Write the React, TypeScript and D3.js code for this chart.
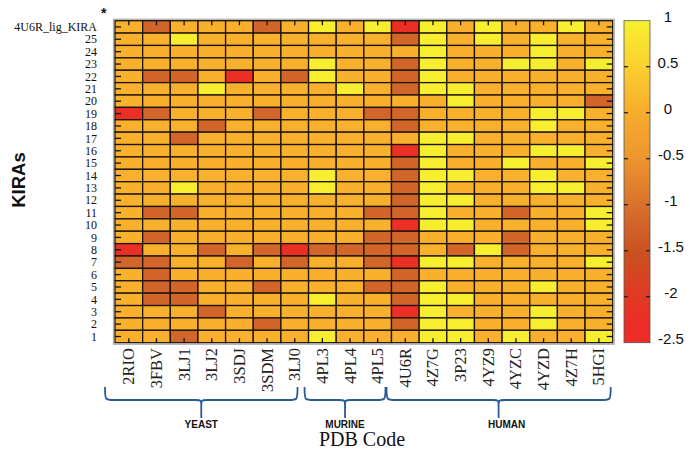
import React from "react";
import * as d3 from "d3";

// PDB structures (columns)
const pdbCodes = [
  "2RIO", "3FBV", "3LJ1", "3LJ2", "3SDJ", "3SDM", "3LJ0",
  "4PL3", "4PL4", "4PL5",
  "4U6R", "4Z7G", "3P23", "4YZ9", "4YZC", "4YZD", "4Z7H", "5HGI",
];

// KIRA ligands (rows, top to bottom)
const kiraLabels = [
  "4U6R_lig_KIRA", "25", "24", "23", "22", "21", "20", "19", "18", "17", "16", "15", "14",
  "13", "12", "11", "10", "9", "8", "7", "6", "5", "4", "3", "2", "1",
];

// docking score per row (same order as kiraLabels), one value per pdb code
const scores = [
  [0.1, -1.2, 0.1, 0.1, 0.1, -1.2, 0.1, 0.95, 0.1, 0.95, -2.2, 0.95, 0.1, 0.95, 0.1, 0.1, 0.95, 0.1],
  [0.1, 0.1, 0.95, 0.1, 0.1, 0.1, 0.1, 0.1, 0.1, 0.1, -1.2, 0.95, 0.1, 0.95, 0.1, 0.95, 0.1, 0.1],
  [0.1, 0.1, 0.1, 0.1, 0.1, 0.1, 0.1, 0.1, 0.1, 0.1, 0.1, 0.95, 0.1, 0.1, 0.1, 0.95, 0.1, 0.1],
  [0.1, 0.1, 0.1, 0.1, 0.1, 0.1, 0.1, 0.95, 0.1, 0.1, -1.2, 0.95, 0.1, 0.1, 0.95, 0.95, 0.1, 0.95],
  [0.1, -1.2, -1.2, 0.1, -2.2, 0.1, -1.2, 0.95, 0.1, 0.1, -1.2, 0.95, 0.1, 0.1, 0.1, 0.1, 0.1, 0.1],
  [0.1, 0.1, 0.1, 0.95, 0.1, 0.1, 0.1, 0.1, 0.95, 0.1, -1.2, 0.95, 0.95, 0.1, 0.1, 0.1, 0.1, 0.1],
  [0.1, 0.1, 0.1, 0.1, 0.1, 0.1, 0.1, 0.1, 0.1, 0.1, 0.1, 0.1, 0.95, 0.1, 0.1, 0.1, 0.1, -1.2],
  [-2.2, -1.2, 0.1, 0.1, 0.1, -1.2, 0.1, 0.1, 0.1, -1.2, -1.2, 0.1, 0.1, 0.1, 0.1, 0.95, 0.95, 0.1],
  [0.1, 0.1, 0.1, -1.2, 0.1, 0.1, 0.1, 0.1, 0.1, 0.1, -1.2, 0.1, 0.1, 0.1, 0.1, 0.95, 0.1, 0.1],
  [0.1, 0.1, -1.2, 0.1, 0.1, 0.1, 0.1, 0.1, 0.1, 0.1, 0.1, 0.95, 0.95, 0.1, 0.1, 0.1, 0.1, 0.1],
  [0.1, 0.1, 0.1, 0.1, 0.1, 0.1, 0.1, 0.1, 0.1, 0.1, -2.2, 0.95, 0.1, 0.1, 0.1, 0.95, 0.95, 0.1],
  [0.1, 0.1, 0.1, 0.1, 0.1, 0.1, 0.1, 0.1, 0.1, 0.1, -1.2, 0.95, 0.1, 0.1, 0.95, 0.1, 0.1, 0.95],
  [0.1, 0.1, 0.1, 0.1, 0.1, 0.1, 0.1, 0.95, 0.1, 0.1, -1.2, 0.95, 0.95, 0.1, 0.1, 0.95, 0.1, 0.1],
  [0.1, 0.1, 0.95, 0.1, 0.1, 0.1, 0.1, 0.95, 0.1, 0.1, -1.2, 0.95, 0.1, 0.1, 0.1, 0.95, 0.95, 0.1],
  [0.1, 0.1, 0.1, 0.1, 0.1, 0.1, 0.1, 0.1, 0.1, 0.1, -1.2, 0.95, 0.95, 0.1, 0.1, 0.1, 0.1, 0.1],
  [0.1, -1.2, -1.2, 0.1, 0.1, 0.1, 0.1, 0.1, 0.1, -1.2, -1.2, 0.95, 0.1, 0.1, -1.2, 0.1, 0.1, 0.95],
  [0.1, 0.1, 0.1, 0.1, 0.1, 0.1, 0.1, 0.1, 0.1, 0.1, -2.2, 0.95, 0.95, 0.1, 0.1, 0.1, 0.1, 0.95],
  [0.1, -1.2, 0.1, 0.1, 0.1, 0.1, 0.1, 0.1, 0.1, -1.2, -1.2, 0.1, 0.1, 0.1, -1.2, 0.1, 0.1, 0.1],
  [-2.2, 0.1, 0.1, -1.2, 0.1, -1.2, -2.2, -1.2, -1.2, -1.2, -1.2, 0.1, -1.2, 0.95, -1.2, 0.1, 0.1, 0.1],
  [-1.2, -1.2, 0.1, 0.1, -1.2, 0.1, -1.2, 0.1, 0.1, -1.2, -2.2, 0.95, 0.95, 0.1, 0.1, 0.1, 0.1, 0.95],
  [0.1, -1.2, 0.1, 0.1, 0.1, 0.1, 0.1, 0.1, 0.1, 0.1, -1.2, 0.1, 0.1, 0.1, 0.1, 0.1, 0.1, 0.1],
  [0.1, -1.2, -1.2, 0.1, 0.1, -1.2, 0.1, 0.1, 0.1, -1.2, -1.2, 0.95, 0.1, 0.1, 0.1, 0.95, 0.1, 0.1],
  [0.1, -1.2, -1.2, 0.1, 0.1, 0.1, 0.1, 0.95, 0.1, 0.1, -1.2, 0.95, 0.95, 0.1, 0.1, 0.1, 0.1, 0.1],
  [0.1, 0.1, 0.1, -1.2, 0.1, 0.1, 0.1, 0.1, 0.1, 0.1, -2.2, 0.95, 0.1, 0.1, 0.1, 0.95, 0.1, 0.1],
  [0.1, 0.1, 0.1, 0.1, 0.1, -1.2, 0.1, 0.1, 0.1, 0.1, -1.2, 0.95, 0.95, 0.1, 0.1, 0.95, 0.1, 0.1],
  [0.1, 0.1, -1.2, 0.1, 0.1, 0.1, 0.1, 0.95, 0.1, 0.1, 0.1, 0.95, 0.95, 0.1, 0.95, 0.1, 0.1, 0.95],
];

const colorTicks = [1, 0.5, 0, -0.5, -1, -1.5, -2, -2.5];

// organism groups under the x axis
const groupNames = ["YEAST", "MURINE", "HUMAN"];
const groupFirst = ["2RIO", "4PL3", "4U6R"];
const groupLast = ["3LJ0", "4PL5", "5HGI"];

const colorStops = [-2.5, -2.2, -1.5, -1.2, -1, -0.5, 0, 0.1, 0.5, 1];
const colorRange = [
  "#ef2b25", "#ea2f25", "#c9521f", "#d2652a", "#d8712b", "#ee952f",
  "#f7ac2c", "#f9b12d", "#fbcf2f", "#f7f130",
];

const braceColor = "#2b5a98";

function bracePath(x1: number, x2: number, top: number, mid: number, tip: number) {
  const cx = (x1 + x2) / 2;
  const p = d3.path();
  p.moveTo(x1, top);
  p.bezierCurveTo(x1, mid, x1, mid, x1 + 9, mid);
  p.lineTo(cx - 6, mid);
  p.bezierCurveTo(cx, mid, cx, mid, cx, mid + 7);
  p.lineTo(cx, tip);
  p.moveTo(cx, mid + 7);
  p.bezierCurveTo(cx, mid, cx, mid, cx + 6, mid);
  p.lineTo(x2 - 9, mid);
  p.bezierCurveTo(x2, mid, x2, mid, x2, top);
  return p.toString();
}

export default function App() {
  const width = 690;
  const height = 449;
  const left = 115;
  const right = 612.7;
  const top = 20.7;
  const bottom = 342.7;

  const x = d3.scaleBand<string>().domain(pdbCodes).range([left, right]);
  const y = d3.scaleBand<string>().domain(kiraLabels).range([top, bottom]);
  const color = d3
    .scaleLinear<string>()
    .domain(colorStops)
    .range(colorRange)
    .interpolate(d3.interpolateRgb)
    .clamp(true);

  const cbX = 624;
  const cbW = 26;
  const cbY = d3.scaleLinear().domain([-2.5, 1]).range([bottom, top]);

  const bw = x.bandwidth();
  const bh = y.bandwidth();
  const serif = "'Liberation Serif', 'Times New Roman', serif";
  const sans = "'Liberation Sans', Arial, sans-serif";

  const cells = scores.flatMap((row, i) =>
    row.map((v, j) => ({ r: kiraLabels[i], c: pdbCodes[j], v }))
  );

  return (
    <svg
      width={width}
      height={height}
      style={{ position: "absolute", left: 0, top: 0, background: "#fff" }}
    >
      <defs>
        <linearGradient id="cbar" x1="0" y1="1" x2="0" y2="0">
          {d3.range(0, 1.0001, 0.02).map((t) => (
            <stop
              key={t}
              offset={t}
              stopColor={color(-2.5 + 3.5 * t)}
            />
          ))}
        </linearGradient>
      </defs>

      {/* heatmap cells */}
      <g stroke="#1c1208" strokeWidth={1.3}>
        {cells.map((d) => (
          <rect
            key={d.r + d.c}
            x={x(d.c)}
            y={y(d.r)}
            width={bw}
            height={bh}
            fill={color(d.v)}
          />
        ))}
      </g>
      <rect
        x={left - 1.5}
        y={top - 1.5}
        width={right - left + 3}
        height={bottom - top + 3}
        fill="none"
        stroke="#a8a8a8"
        strokeWidth={1.2}
      />

      {/* ticks */}
      <g stroke="#111" strokeWidth={1.3}>
        {pdbCodes.map((c) => {
          const cx = (x(c) as number) + bw / 2;
          return (
            <g key={c}>
              <line x1={cx} x2={cx} y1={top} y2={top + 4.5} />
              <line x1={cx} x2={cx} y1={bottom} y2={bottom - 4.5} />
            </g>
          );
        })}
        {kiraLabels.map((r) => {
          const cy = (y(r) as number) + bh / 2;
          return (
            <g key={r}>
              <line x1={left} x2={left + 6} y1={cy} y2={cy} />
              <line x1={right} x2={right - 6} y1={cy} y2={cy} />
            </g>
          );
        })}
      </g>

      {/* row labels */}
      <g fontFamily={serif} fontSize={12} fill="#111" textAnchor="end">
        {kiraLabels.map((r) => (
          <text key={r} x={97} y={(y(r) as number) + bh / 2} dy="0.35em">
            {r}
          </text>
        ))}
      </g>
      <text x={101} y={18} fontFamily={sans} fontSize={14} fontWeight="bold" fill="#111">
        *
      </text>

      {/* column labels */}
      <g fontFamily={serif} fontSize={16.5} fill="#222" textAnchor="end">
        {pdbCodes.map((c) => {
          const cx = (x(c) as number) + bw / 2 + 5.5;
          return (
            <text key={c} transform={`translate(${cx},348) rotate(-90)`}>
              {c}
            </text>
          );
        })}
      </g>

      {/* group braces */}
      {groupNames.map((g, i) => {
        const x1 = (x(groupFirst[i]) as number) - (i === 0 ? 10 : i === 1 ? 4 : 5);
        const x2 = (x(groupLast[i]) as number) + bw - (i === 0 ? 11 : i === 1 ? 6 : 2);
        return (
          <g key={g}>
            <path
              d={bracePath(x1, x2, 387, 400, 418)}
              fill="none"
              stroke={braceColor}
              strokeWidth={1.8}
            />
            <text
              x={(x1 + x2) / 2 + (i === 2 ? 8 : 0)}
              y={428}
              textAnchor="middle"
              fontFamily={sans}
              fontWeight="bold"
              fontSize={10}
              fill="#111"
            >
              {g}
            </text>
          </g>
        );
      })}

      <text
        x={362}
        y={446}
        textAnchor="middle"
        fontFamily={serif}
        fontSize={20}
        fill="#111"
      >
        PDB Code
      </text>

      <text
        transform={`translate(25,180) rotate(-90)`}
        textAnchor="middle"
        fontFamily={sans}
        fontWeight="bold"
        fontSize={18.5}
        fill="#111"
      >
        KIRAs
      </text>

      {/* colour bar */}
      <rect
        x={cbX}
        y={top}
        width={cbW}
        height={bottom - top}
        fill="url(#cbar)"
        stroke="#555"
        strokeWidth={0.8}
      />
      <g stroke="#222" strokeWidth={1.3}>
        {colorTicks
          .filter((t) => t > -2.5 && t < 1)
          .map((t) => (
            <g key={t}>
              <line x1={cbX} x2={cbX + 4} y1={cbY(t)} y2={cbY(t)} />
              <line x1={cbX + cbW} x2={cbX + cbW - 4} y1={cbY(t)} y2={cbY(t)} />
            </g>
          ))}
      </g>
      <g fontFamily={sans} fontSize={15} fill="#111" textAnchor="middle">
        {colorTicks.map((t) => (
          <text key={t} x={t < 0 ? 671 : 668} y={cbY(t)} dy="0.1em">
            {t}
          </text>
        ))}
      </g>
    </svg>
  );
}
